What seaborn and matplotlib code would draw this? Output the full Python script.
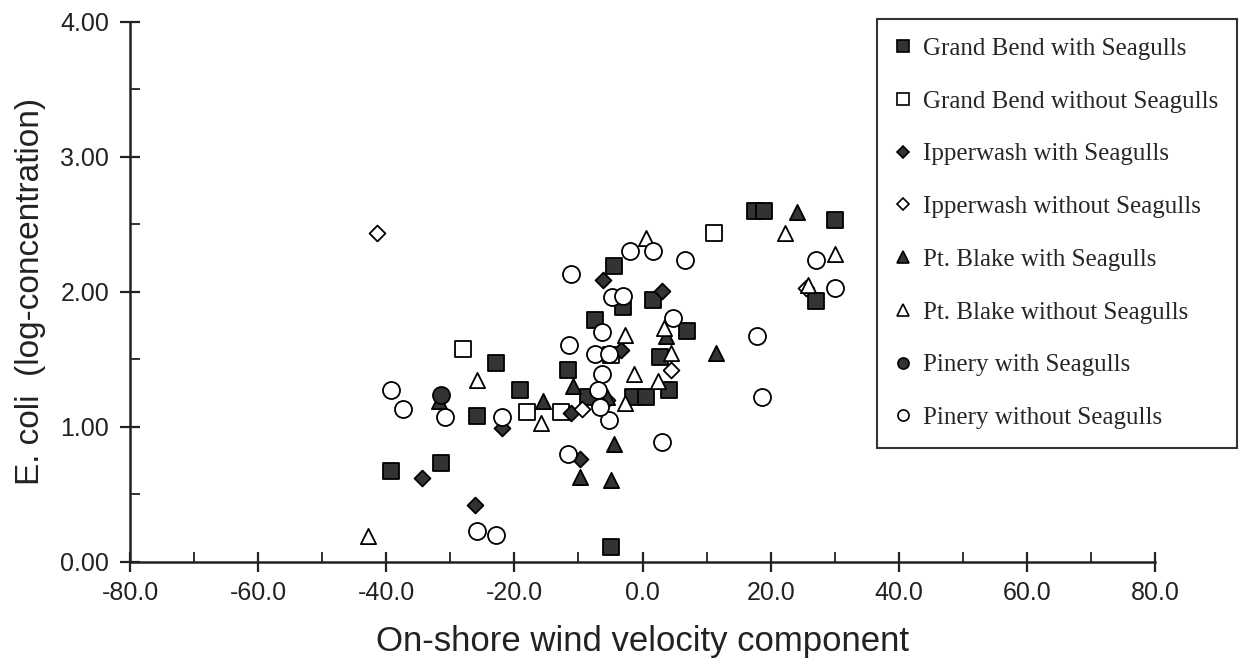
import matplotlib
matplotlib.use("Agg")
import matplotlib.pyplot as plt
import seaborn as sns
import pandas as pd
from matplotlib.lines import Line2D
from matplotlib.ticker import MultipleLocator, FormatStrFormatter

# ---- data ----
gb_with_x = [-39.2, -31.4, -25.9, -22.8, -19.2, -11.7, -8.5, -7.5, -4.4, -3.1, -5.0, -1.5, 0.5, 1.6, 2.7, 4.1, 6.9, 17.5, 19.0, 27.1, 30.1]
gb_with_y = [0.67, 0.73, 1.08, 1.47, 1.27, 1.42, 1.22, 1.79, 2.19, 1.89, 0.11, 1.22, 1.22, 1.94, 1.52, 1.27, 1.71, 2.60, 2.60, 1.93, 2.53]

gb_without_x = [-28.1, -18.1, -12.7, -5.0, 11.2]
gb_without_y = [1.58, 1.11, 1.11, 1.53, 2.44]

ip_with_x = [-34.4, -26.2, -21.9, -11.1, -9.8, -6.2, -3.3, 3.1]
ip_with_y = [0.62, 0.42, 0.99, 1.10, 0.76, 2.09, 1.57, 2.01]

ip_without_x = [-41.4, -9.4, -5.5, 4.5, 25.5]
ip_without_y = [2.44, 1.13, 1.20, 1.42, 2.03]

pb_with_x = [-31.7, -15.6, -10.9, -9.8, -5.0, -4.4, -5.5, 3.7, 11.5, 24.1]
pb_with_y = [1.19, 1.19, 1.30, 0.63, 0.61, 0.87, 1.22, 1.67, 1.55, 2.59]

pb_without_x = [-42.8, -25.9, -15.9, -2.8, -2.8, -1.3, 0.6, 2.4, 3.4, 4.5, 22.2, 25.9, 30.1]
pb_without_y = [0.19, 1.35, 1.03, 1.68, 1.18, 1.39, 2.40, 1.34, 1.73, 1.55, 2.44, 2.05, 2.28]

pi_with_x = [-31.4]
pi_with_y = [1.24]

pi_without_x = [-39.2, -37.4, -30.9, -22.0, -25.8, -22.8, -11.7, -11.2, -11.5, -2.0, 1.6, 6.7, -4.8, -3.1,
                -6.4, -7.5, -5.2, -6.4, -7.0, 4.7, -5.2, -6.7, 3.0, 17.8, 18.6, 27.0, 30.1]
pi_without_y = [1.27, 1.13, 1.07, 1.07, 0.23, 0.20, 0.80, 2.13, 1.61, 2.30, 2.30, 2.24, 1.96, 1.97,
                1.70, 1.54, 1.54, 1.39, 1.27, 1.81, 1.05, 1.15, 0.89, 1.67, 1.22, 2.24, 2.03]

series_names = ["Grand Bend with Seagulls", "Grand Bend without Seagulls",
                "Ipperwash with Seagulls", "Ipperwash without Seagulls",
                "Pt. Blake with Seagulls", "Pt. Blake without Seagulls",
                "Pinery with Seagulls", "Pinery without Seagulls"]
series_x = [gb_with_x, gb_without_x, ip_with_x, ip_without_x, pb_with_x, pb_without_x, pi_with_x, pi_without_x]
series_y = [gb_with_y, gb_without_y, ip_with_y, ip_without_y, pb_with_y, pb_without_y, pi_with_y, pi_without_y]

x_ticks = [-80, -60, -40, -20, 0, 20, 40, 60, 80]
y_ticks = [0, 1, 2, 3, 4]

# ---- styles ----
marker_of = ["s", "s", "D", "D", "^", "^", "o", "o"]
face_of = ["#333333", "white"] * 4
size_of = [120, 120, 65, 65, 120, 120, 150, 150]
leg_size = [8, 8, 6, 6, 8, 8, 8, 8]

frames = []
for name, xs, ys in zip(series_names, series_x, series_y):
    frames.append(pd.DataFrame({"x": xs, "y": ys, "series": name}))
df = pd.concat(frames, ignore_index=True)

sns.set_theme(style="white")
plt.rcParams["font.family"] = ["Liberation Sans", "DejaVu Sans"]

fig = plt.figure(figsize=(12.42, 6.65), dpi=100)
ax = fig.add_axes([0.1047, 0.155, 0.8253, 0.812])

for i, name in enumerate(series_names):
    sub = df[df["series"] == name]
    sns.scatterplot(data=sub, x="x", y="y", marker=marker_of[i], s=size_of[i],
                    color=face_of[i], edgecolor="black", linewidth=1.3,
                    ax=ax, legend=False, clip_on=False, zorder=3)

ax.set_xlim(-80, 80)
ax.set_ylim(0, 4)
ax.set_xticks(x_ticks)
ax.set_yticks(y_ticks)
ax.xaxis.set_minor_locator(MultipleLocator(10))
ax.yaxis.set_minor_locator(MultipleLocator(0.5))
ax.xaxis.set_major_formatter(FormatStrFormatter("%.1f"))
ax.yaxis.set_major_formatter(FormatStrFormatter("%.2f"))

for s in ["top", "right"]:
    ax.spines[s].set_visible(False)
for s in ["left", "bottom"]:
    ax.spines[s].set_linewidth(1.8)
    ax.spines[s].set_color("#222222")

ax.tick_params(axis="both", which="major", direction="inout", length=14, width=1.6,
               color="#222222", labelsize=18, labelcolor="#222222", bottom=True, left=True)
ax.tick_params(axis="both", which="minor", direction="in", length=7, width=1.3,
               color="#222222", bottom=True, left=True)
ax.tick_params(axis="x", which="major", pad=7)
ax.tick_params(axis="y", which="major", pad=8)

ax.set_xlabel("On-shore wind velocity component", fontsize=25, color="#222222", labelpad=14)
ax.set_ylabel("E. coli  (log-concentration)", fontsize=24, color="#222222", labelpad=10)

handles = []
for i, name in enumerate(series_names):
    handles.append(Line2D([0], [0], linestyle="none", marker=marker_of[i], markersize=leg_size[i],
                          markerfacecolor=face_of[i], markeredgecolor="black", markeredgewidth=1.2,
                          label=name))
leg = fig.legend(handles=handles, loc="upper left", bbox_to_anchor=(0.706, 0.972),
                 prop={"family": "Liberation Serif", "size": 18}, frameon=True, fancybox=False,
                 edgecolor="black", labelspacing=1.21, handletextpad=0.5, handlelength=0.6,
                 borderpad=0.75, borderaxespad=0)
leg.get_frame().set_linewidth(1.5)

fig.savefig("out.png", dpi=100, facecolor="white")
